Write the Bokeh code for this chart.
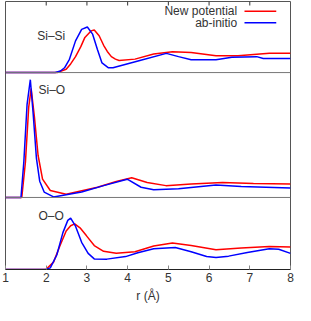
from bokeh.plotting import figure
from bokeh.models import Range1d, Span, Label, FixedTicker
from bokeh.embed import file_html
from bokeh.resources import INLINE

# ---- data ----
r_sisi_new = [1.0, 2.27, 2.49, 2.60, 2.72, 2.85, 2.95, 3.10, 3.18, 3.30, 3.41, 3.50, 3.60, 3.70, 3.79,
              4.18, 4.64, 5.10, 5.56, 6.17, 6.71, 7.48, 8.0]
g_sisi_new = [0.0, 0.0, 0.17, 0.45, 0.83, 1.35, 1.83, 2.17, 2.22, 1.92, 1.42, 1.10, 0.83, 0.70, 0.63,
              0.70, 0.97, 1.08, 1.05, 0.87, 0.87, 1.00, 1.00]
r_sisi_ai = [1.0, 2.22, 2.35, 2.45, 2.57, 2.72, 2.87, 3.01, 3.14, 3.26, 3.37, 3.53, 3.64,
             4.30, 4.95, 5.25, 5.56, 6.17, 6.56, 7.17, 7.33, 8.0]
g_sisi_ai = [0.0, 0.0, 0.08, 0.25, 0.69, 1.65, 2.25, 2.37, 2.00, 1.19, 0.50, 0.25, 0.25,
             0.63, 1.00, 0.83, 0.67, 0.67, 0.80, 0.83, 0.73, 0.73]

r_sio_new = [1.0, 1.40, 1.49, 1.57, 1.63, 1.71, 1.80, 1.91, 2.10, 2.49, 3.26, 3.72, 4.10, 4.48,
             4.94, 5.56, 6.33, 7.09, 8.0]
g_sio_new = [0.0, 0.0, 2.64, 6.71, 8.09, 6.00, 3.14, 1.36, 0.52, 0.24, 0.76, 1.19, 1.47, 1.11,
             0.88, 1.00, 1.11, 1.04, 1.00]
r_sio_ai = [1.0, 1.38, 1.45, 1.53, 1.61, 1.68, 1.76, 1.84, 1.95, 2.18, 2.87, 3.41, 3.99, 4.33,
            4.64, 5.25, 6.17, 6.79, 8.0]
g_sio_ai = [0.0, 0.0, 2.64, 6.93, 8.76, 6.21, 2.90, 1.21, 0.40, 0.04, 0.40, 0.88, 1.36, 0.76,
            0.57, 0.64, 0.93, 0.81, 0.71]

r_oo_new = [1.0, 1.99, 2.18, 2.34, 2.49, 2.60, 2.70, 2.83, 2.99, 3.18, 3.41, 3.72, 4.18, 4.64,
            5.10, 5.56, 6.17, 6.79, 7.48, 8.0]
g_oo_new = [0.0, 0.0, 0.32, 1.04, 1.67, 1.90, 1.98, 1.81, 1.46, 1.04, 0.79, 0.70, 0.77, 1.02,
            1.15, 1.04, 0.86, 0.93, 1.00, 0.98]
r_oo_ai = [1.0, 1.99, 2.10, 2.26, 2.41, 2.53, 2.60, 2.72, 2.87, 3.03, 3.18, 3.49, 3.95, 4.25,
           4.64, 5.17, 5.56, 5.94, 6.17, 6.48, 6.94, 7.48, 7.71, 8.0]
g_oo_ai = [0.0, 0.0, 0.07, 0.63, 1.60, 2.13, 2.23, 1.88, 1.18, 0.70, 0.46, 0.45, 0.56, 0.73,
           0.90, 0.95, 0.77, 0.56, 0.52, 0.58, 0.74, 0.90, 0.88, 0.70]

x_ticks = [1, 2, 3, 4, 5, 6, 7, 8]
panel_names = ["Si–Si", "Si–O", "O–O"]
series_names = ["New potential", "ab-initio"]
series_colors = ["#ff0000", "#0000ff"]

# panel layout: (bottom fraction, top fraction, data max at top of band)
bands = {"sisi": (0.7348, 1.0, 3.7), "sio": (0.2688, 0.7348, 9.29), "oo": (0.0, 0.2688, 3.125)}

FONT = "Liberation Sans"
TXT = "#333333"
FRAME_H = 305 - 1 - 36

p = figure(width=295, height=305, x_range=Range1d(1, 8), y_range=Range1d(0, 1),
           output_backend="svg", toolbar_location=None, y_axis_location=None,
           min_border_left=5, min_border_right=5, min_border_top=1, min_border_bottom=0)
p.grid.visible = False
p.outline_line_color = "#555555"
p.outline_line_width = 1
p.background_fill_color = "white"
p.border_fill_color = "white"

for name, (f0, f1, m) in bands.items():
    span = m / (f1 - f0)
    start = -f0 * span
    p.extra_y_ranges[name] = Range1d(start, start + span)

# separators at baselines of upper panels
for name in ["sisi", "sio"]:
    p.add_layout(Span(location=0, dimension="width", y_range_name=name,
                      line_color="#777777", line_width=1))

data = [("sisi", r_sisi_new, g_sisi_new, r_sisi_ai, g_sisi_ai),
        ("sio", r_sio_new, g_sio_new, r_sio_ai, g_sio_ai),
        ("oo", r_oo_new, g_oo_new, r_oo_ai, g_oo_ai)]
for name, rn, gn, ra, ga in data:
    p.line(rn, gn, y_range_name=name, line_color=series_colors[0], line_width=1.5)
    p.line(ra, ga, y_range_name=name, line_color=series_colors[1], line_width=1.5)

# bottom axis
ax = p.xaxis[0]
ax.ticker = FixedTicker(ticks=x_ticks)
ax.major_tick_in = 4
ax.major_tick_out = 0
ax.major_tick_line_color = "#888888"
ax.minor_tick_line_color = None
ax.axis_line_color = "#222222"
ax.major_label_standoff = 3
ax.major_label_text_font = FONT
ax.major_label_text_font_size = "12px"
ax.major_label_text_color = TXT
ax.axis_label = "r (Å)"
ax.axis_label_text_font = FONT
ax.axis_label_text_font_size = "12px"
ax.axis_label_text_font_style = "normal"
ax.axis_label_text_color = TXT
ax.axis_label_standoff = 4

# top mirror ticks (inward), drawn as short segments at the tick positions
tick_len = 4.0 / FRAME_H
inner = x_ticks[1:-1]
p.segment(x0=inner, y0=[1.0] * len(inner), x1=inner, y1=[1.0 - tick_len] * len(inner),
          line_color="#333333", line_width=1)

# panel labels
label_pos = [(1.78, 0.871), (1.81, 0.670), (1.81, 0.201)]
for txt, (lx, ly) in zip(panel_names, label_pos):
    p.add_layout(Label(x=lx, y=ly, text=txt, text_baseline="middle", text_font=FONT,
                       text_font_size="12px", text_color=TXT))

# legend (text right, sample line to the right)
leg_y = [0.964, 0.921]
leg_text_x = 6.69
leg_line_x = [6.87, 7.65]
for nm, col, yy in zip(series_names, series_colors, leg_y):
    p.add_layout(Label(x=leg_text_x, y=yy, text=nm, text_align="right", text_baseline="middle",
                       text_font=FONT, text_font_size="12px", text_color=TXT))
    p.line(leg_line_x, [yy, yy], line_color=col, line_width=1.5)

open("out.html", "w").write(file_html(p, INLINE))
